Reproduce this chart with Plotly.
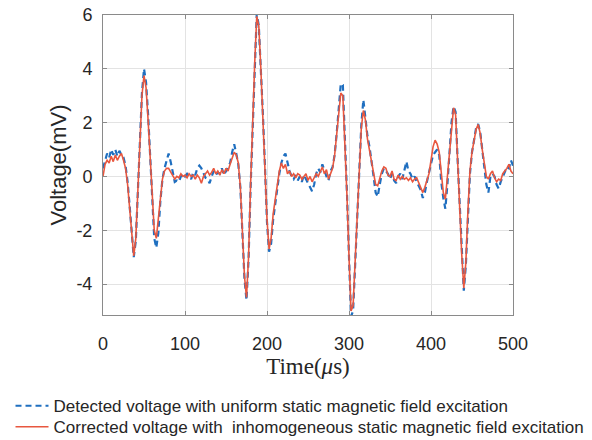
import plotly.graph_objects as go

# time axis (microseconds), sampled every 2.5 us
time_us = [
    0, 2.5, 5, 7.5, 10, 12.5, 15, 17.5, 20, 22.5,
    25, 27.5, 30, 32.5, 35, 37.5, 40, 42.5, 45, 47.5,
    50, 52.5, 55, 57.5, 60, 62.5, 65, 67.5, 70, 72.5,
    75, 77.5, 80, 82.5, 85, 87.5, 90, 92.5, 95, 97.5,
    100, 102.5, 105, 107.5, 110, 112.5, 115, 117.5, 120, 122.5,
    125, 127.5, 130, 132.5, 135, 137.5, 140, 142.5, 145, 147.5,
    150, 152.5, 155, 157.5, 160, 162.5, 165, 167.5, 170, 172.5,
    175, 177.5, 180, 182.5, 185, 187.5, 190, 192.5, 195, 197.5,
    200, 202.5, 205, 207.5, 210, 212.5, 215, 217.5, 220, 222.5,
    225, 227.5, 230, 232.5, 235, 237.5, 240, 242.5, 245, 247.5,
    250, 252.5, 255, 257.5, 260, 262.5, 265, 267.5, 270, 272.5,
    275, 277.5, 280, 282.5, 285, 287.5, 290, 292.5, 295, 297.5,
    300, 302.5, 305, 307.5, 310, 312.5, 315, 317.5, 320, 322.5,
    325, 327.5, 330, 332.5, 335, 337.5, 340, 342.5, 345, 347.5,
    350, 352.5, 355, 357.5, 360, 362.5, 365, 367.5, 370, 372.5,
    375, 377.5, 380, 382.5, 385, 387.5, 390, 392.5, 395, 397.5,
    400, 402.5, 405, 407.5, 410, 412.5, 415, 417.5, 420, 422.5,
    425, 427.5, 430, 432.5, 435, 437.5, 440, 442.5, 445, 447.5,
    450, 452.5, 455, 457.5, 460, 462.5, 465, 467.5, 470, 472.5,
    475, 477.5, 480, 482.5, 485, 487.5, 490, 492.5, 495, 497.5,
    500,
]

# detected voltage, uniform static field (mV)
detected_mv = [
    0.3, 0.6, 0.85, 0.7, 1.0, 0.8, 1.0, 0.75, 0.95, 0.8,
    0.7, 0.4, -0.2, -1.1, -2.2, -3.0, -2.4, -0.5, 1.3, 3.1,
    4.0, 3.5, 2.3, 0.8, -0.9, -2.3, -2.65, -2.1, -0.9, -0.1,
    0.3, 0.6, 0.85, 0.55, 0.1, -0.2, -0.15, -0.2, 0.0, 0.1,
    0.0, 0.1, 0.0, -0.1, 0.15, 0.05, 0.3, 0.4, 0.3, 0.1,
    -0.05, -0.1, -0.25, 0.0, 0.2, 0.05, 0.15, 0.1, 0.3, 0.05,
    0.2, 0.35, 0.5, 0.9, 1.2, 0.85, 0.45, -0.4, -2.1, -3.8,
    -4.6, -3.1, -0.4, 2.0, 4.1, 6.05, 5.6, 4.1, 2.3, 0.4,
    -1.7, -2.8, -2.5, -1.6, -1.0, -0.4, 0.1, 0.5, 0.75, 0.85,
    0.5, 0.2, 0.0, -0.1, 0.05, -0.15, 0.0, -0.2, 0.05, -0.1,
    -0.3, -0.45, -0.55, -0.3, 0.1, 0.3, 0.15, 0.45, 0.2, 0.0,
    -0.15, 0.2, 0.35, 0.8, 1.6, 2.6, 3.45, 3.4, 1.6, -0.6,
    -3.0, -5.2, -5.0, -3.2, -1.6, 0.3, 1.9, 2.85, 2.2, 1.5,
    1.1, 0.6, 0.0, -0.6, -0.75, -0.3, 0.1, 0.3, 0.2, 0.1,
    -0.1, 0.1, -0.15, -0.25, 0.0, 0.1, -0.1, 0.2, 0.55, 0.2,
    0.1, -0.1, 0.0, -0.2, -0.35, -0.5, -0.8, -0.6, -0.2, 0.1,
    0.45, 0.8, 0.9, 1.0, 0.8, -0.2, -0.8, -1.2, -0.3, 0.9,
    2.0, 2.6, 2.4, 0.6, -1.2, -3.0, -4.25, -3.3, -1.4, 0.1,
    0.9, 1.4, 1.8, 1.95, 1.65, 1.0, 0.3, -0.3, -0.6, 0.0,
    0.1, 0.0, -0.3, -0.45, -0.2, 0.0, 0.15, 0.35, 0.3, 0.6,
    0.4,
]

# corrected voltage, inhomogeneous static field (mV)
corrected_mv = [
    0.0, 0.45, 0.6, 0.5, 0.75, 0.55, 0.8, 0.6, 0.75, 0.85,
    0.6, 0.3, -0.3, -1.1, -2.1, -2.95, -2.3, -0.4, 1.3, 3.0,
    3.75, 3.3, 2.1, 0.6, -0.8, -2.0, -2.3, -1.6, -0.7, -0.1,
    0.2, 0.3, 0.3, 0.15, 0.0, -0.1, 0.0, -0.05, 0.1, 0.0,
    0.05, -0.05, 0.1, 0.0, 0.05, -0.1, 0.05, -0.05, -0.25, 0.0,
    0.1, 0.2, 0.05, 0.15, 0.3, 0.1, 0.2, 0.05, 0.25, 0.1,
    0.3, 0.2, 0.45, 0.7, 0.9, 0.8, 0.5, -0.4, -2.1, -3.7,
    -4.5, -3.0, -0.3, 2.1, 4.2, 5.95, 5.6, 4.0, 2.2, 0.4,
    -1.6, -2.7, -2.3, -1.4, -0.8, -0.2, 0.2, 0.5, 0.3, 0.45,
    0.1, 0.2, 0.0, 0.1, -0.05, 0.1, 0.05, -0.1, 0.0, 0.1,
    -0.15, 0.0, -0.2, -0.05, 0.1, 0.0, 0.2, 0.35, 0.1, 0.25,
    -0.1, 0.1, 0.3, 0.8, 1.6, 2.5, 3.1, 3.0, 1.4, -0.7,
    -3.0, -5.0, -4.8, -3.0, -1.6, 0.3, 1.8, 2.45, 2.1, 1.4,
    1.0, 0.5, 0.1, -0.3, -0.35, -0.05, 0.2, 0.35, 0.3, 0.05,
    0.0, 0.2, -0.1, -0.15, 0.05, -0.1, 0.0, -0.1, -0.05, -0.15,
    -0.05, -0.2, -0.1, -0.05, -0.25, -0.4, -0.6, -0.4, -0.15, 0.1,
    0.6, 1.1, 1.35, 1.2, 0.9, 0.0, -0.6, -0.85, 0.0, 1.0,
    1.9, 2.55, 2.3, 0.5, -1.2, -2.9, -4.15, -3.2, -1.3, 0.2,
    0.9, 1.4, 1.75, 1.93, 1.6, 1.0, 0.4, 0.0, -0.1, 0.1,
    0.2, -0.05, -0.2, -0.1, -0.15, 0.1, 0.2, 0.3, 0.45, 0.2,
    0.1,
]

x_ticks = [0, 100, 200, 300, 400, 500]
y_ticks = [-4, -2, 0, 2, 4, 6]
y_tick_text = ["-4", "-2", "0", "2", "4", "6"]

SANS = "Liberation Sans, Arial, sans-serif"
SERIF = "Liberation Serif, Times New Roman, serif"
INK = "#262626"

fig = go.Figure()

fig.add_trace(go.Scatter(
    x=time_us, y=detected_mv, mode="lines",
    name="Detected voltage with uniform static magnetic field excitation",
    line=dict(color="#1f6fc0", width=2.2, dash="6px,4px"),
    legend="legend",
))
fig.add_trace(go.Scatter(
    x=time_us, y=corrected_mv, mode="lines",
    name="Corrected voltage with\u00a0 inhomogeneous static magnetic field excitation",
    line=dict(color="#e8573f", width=1.6),
    legend="legend2",
))

legend_style = dict(
    x=-0.2256, xanchor="left", yanchor="top",
    font=dict(family=SANS, size=17, color=INK),
    bgcolor="rgba(0,0,0,0)", itemwidth=33,
)

fig.update_layout(
    width=592, height=440,
    margin=dict(l=103, r=79, t=15, b=125, autoexpand=False),
    paper_bgcolor="white", plot_bgcolor="white",
    font=dict(family=SANS, color=INK),
    showlegend=True,
    legend=dict(y=-0.244, **legend_style),
    legend2=dict(y=-0.314, **legend_style),
)

fig.update_xaxes(
    range=[0, 500], tickvals=x_ticks, automargin=False,
    tickfont=dict(family=SANS, size=18, color=INK),
    showgrid=True, gridcolor="#e3e3e3", gridwidth=1,
    showline=True, linecolor="#8a8a8a", linewidth=1, mirror="ticks",
    ticks="inside", ticklen=4, tickcolor="#8a8a8a",
    ticklabelstandoff=12, zeroline=False,
    title=dict(text="Time(<i>\u03bc</i>s)", font=dict(family=SERIF, size=23, color=INK), standoff=3),
)
fig.update_yaxes(
    range=[-5.15, 6], tickvals=y_ticks, ticktext=y_tick_text, automargin=False,
    tickfont=dict(family=SANS, size=18, color=INK),
    showgrid=True, gridcolor="#e3e3e3", gridwidth=1,
    showline=True, linecolor="#8a8a8a", linewidth=1, mirror="ticks",
    ticks="inside", ticklen=4, tickcolor="#8a8a8a",
    ticklabelstandoff=6, zeroline=False, ticklabeloverflow="allow",
    title=dict(text="Voltage(mV)", font=dict(family=SANS, size=22, color=INK), standoff=3),
)

# drop the default 8px body margin so the figure fills the window exactly
fig.write_html(
    "out.html",
    config={"displayModeBar": False},
    post_script="document.body.style.margin = '0';",
)
